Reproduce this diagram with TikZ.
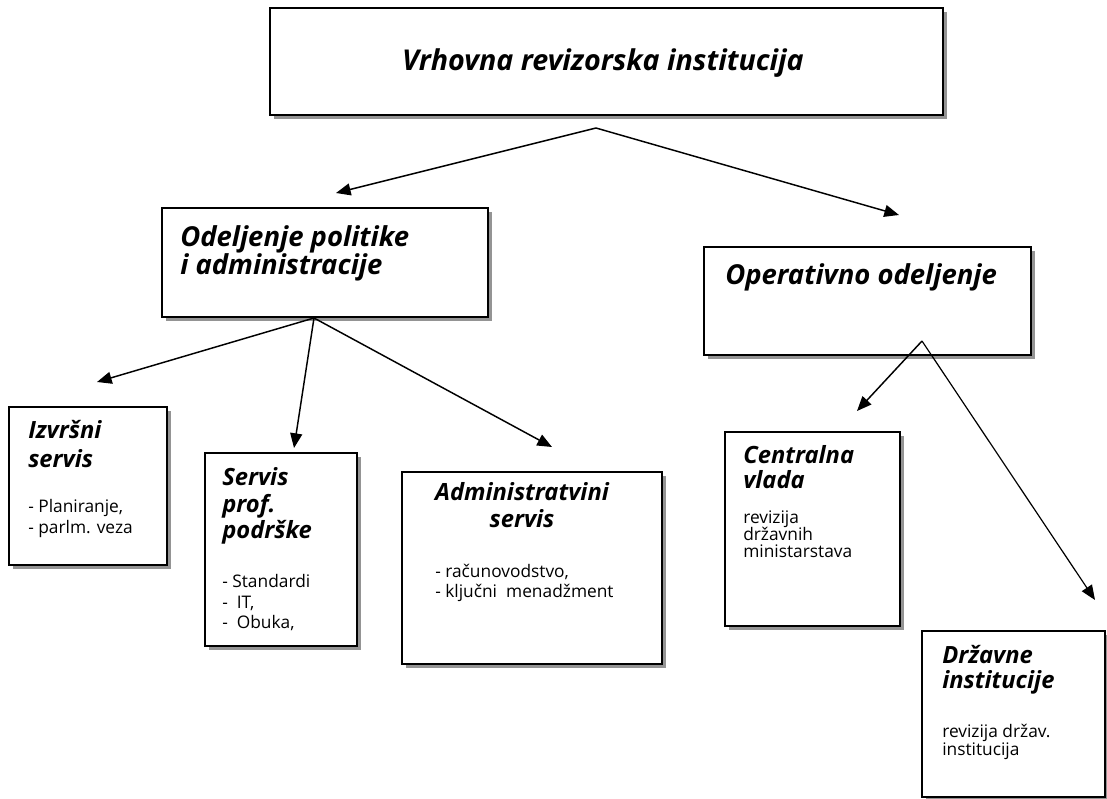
\documentclass[tikz,border=0pt]{standalone}
\usepackage{fontspec}
\setmainfont{Open Sans}
\usetikzlibrary{arrows.meta,shadows,fit}

\tikzset{
  box/.style={draw=black, line width=1.4pt, fill=white, inner sep=0pt,
    drop shadow={shadow xshift=3pt, shadow yshift=-3pt, fill=black!42, opacity=1}},
  big/.style={font=\bfseries\itshape\fontsize{20.6}{20.6}\selectfont, anchor=base west, inner sep=0pt},
  head/.style={font=\bfseries\itshape\fontsize{17.8}{17.8}\selectfont, anchor=base west, inner sep=0pt},
  body/.style={font=\fontsize{13}{13}\selectfont, anchor=base west, inner sep=0pt},
  link/.style={line width=1.1pt, -{Triangle[length=11pt,width=9pt]}},
}

\begin{document}
\begin{tikzpicture}[x=0.75pt,y=-0.75pt]
\useasboundingbox (0,0) rectangle (1107,799);

% boxes
\node[box, fit={(270,8) (943,115)}] (vri) {};
\node[box, fit={(162,208) (488,317)}] (pol) {};
\node[box, fit={(704,247) (1031,355)}] (ope) {};
\node[box, fit={(9,407) (167,565)}] (izv) {};
\node[box, fit={(205,453) (357,646)}] (pro) {};
\node[box, fit={(402,472) (662,664)}] (adm) {};
\node[box, fit={(725,432) (900,626)}] (cen) {};
\node[box, fit={(922,631) (1105,797)}] (drz) {};

% texts
\node[big, font=\bfseries\itshape\fontsize{21.5}{21.5}\selectfont, anchor=base] (vriT) at (603,70) {Vrhovna revizorska institucija};

\node[big] (polT1) at (180,246) {Odeljenje politike};
\node[big] (polT2) at (180,274) {i administracije};

\node[big] (opeT) at (725,284) {Operativno odeljenje};

\node[head] (izvT1) at (28,438) {Izvršni};
\node[head] (izvT2) at (28,467) {servis};
\node[body] (izvB1) at (28,512) {- Planiranje,};
\node[body] (izvB2) at (28,533) {- parlm. veza};

\node[head] (proT1) at (222,485) {Servis};
\node[head] (proT2) at (222,512) {prof.};
\node[head] (proT3) at (222,538) {podrške};
\node[body] (proB1) at (222,587) {- Standardi};
\node[body] (proB2) at (222,608) {-\ \ IT,};
\node[body] (proB3) at (222,628) {-\ \ Obuka,};

\node[head, anchor=base] (admT1) at (522,500) {Administratvini};
\node[head, anchor=base] (admT2) at (522,527) {servis};
\node[body] (admB1) at (435,577) {- računovodstvo,};
\node[body] (admB2) at (435,597) {- ključni\ \ menadžment};

\node[head] (cenT1) at (743,463) {Centralna};
\node[head] (cenT2) at (743,488) {vlada};
\node[body] (cenB1) at (743,523) {revizija};
\node[body] (cenB2) at (743,540) {državnih};
\node[body] (cenB3) at (743,557) {ministarstava};

\node[head] (drzT1) at (942,663) {Državne};
\node[head] (drzT2) at (942,688) {institucije};
\node[body] (drzB1) at (942,737) {revizija držav.};
\node[body] (drzB2) at (942,755) {institucija};

% connector ends
\coordinate (vriOut) at (596,128);
\coordinate (polIn) at (336,193);
\coordinate (opeIn) at (899,215);
\coordinate (polOut) at (314,318);
\coordinate (izvIn) at (97,382);
\coordinate (proIn) at (294,448);
\coordinate (admIn) at (552,447);
\coordinate (opeOut) at (922,341);
\coordinate (cenIn) at (857,411);
\coordinate (drzIn) at (1095,600);

% connectors
\draw[link] (vriOut) -- (polIn);
\draw[link] (vriOut) -- (opeIn);
\draw[link] (polOut) -- (izvIn);
\draw[link] (polOut) -- (proIn);
\draw[link] (polOut) -- (admIn);
\draw[link] (opeOut) -- (cenIn);
\draw[link, line width=0.9pt] (opeOut) -- (drzIn);
\end{tikzpicture}
\end{document}
